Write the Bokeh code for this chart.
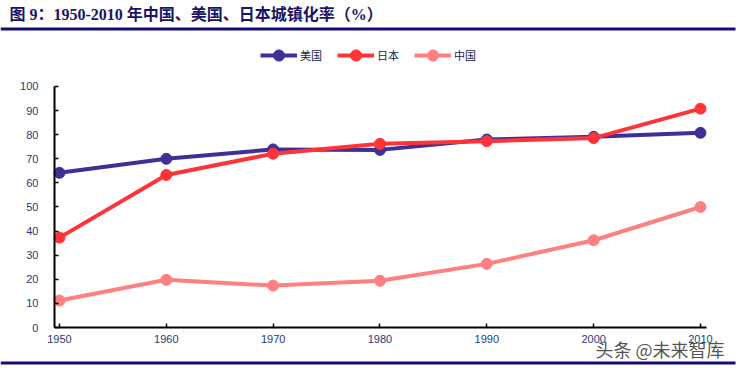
from bokeh.plotting import figure
from bokeh.models import (Range1d, FixedTicker, Legend, LegendItem, Label, BoxAnnotation)
from bokeh.embed import file_html
from bokeh.resources import INLINE

# ---- data ----
years = [1950, 1960, 1970, 1980, 1990, 2000, 2010]
us = [64.2, 70.0, 73.9, 73.7, 78.0, 79.1, 80.8]
japan = [37.3, 63.3, 72.1, 76.2, 77.3, 78.6, 90.8]
china = [11.2, 19.8, 17.4, 19.4, 26.4, 36.2, 50.0]
series_names = ["美国", "日本", "中国"]
series_colors = ["#3F2F96", "#FF3338", "#FF8080"]
y_ticks = [0, 10, 20, 30, 40, 50, 60, 70, 80, 90, 100]
title_text = "图  9：1950-2010 年中国、美国、日本城镇化率（%）"
watermark = "头条 @未来智库"

NAVY = "#160C78"
LABEL_BLUE = "#1F3A78"

W, H = 738, 368
# the frame covers the whole canvas; ranges chosen so the plot area sits
# where the reference has it (1950 -> x 59, 2010 -> x 700, 0 -> y 327, 100 -> y 86)
X0, X1 = 1944.48, 2013.56
Y0, Y1 = -17.01, 135.68
p = figure(width=W, height=H, output_backend="svg", toolbar_location=None,
           x_range=Range1d(X0, X1), y_range=Range1d(Y0, Y1),
           min_border=0, min_border_left=0, min_border_right=0,
           min_border_top=0, min_border_bottom=0)
p.grid.visible = False
p.outline_line_color = None

items = []
for name, vals, col in zip(series_names, [us, japan, china], series_colors):
    lr = p.line(years, vals, line_color=col, line_width=4)
    sr = p.scatter(years, vals, marker="circle", size=11, fill_color=col, line_color=col)
    items.append(LegendItem(label=name, renderers=[lr, sr]))

legend = Legend(items=items, orientation="horizontal", location=(260, 299),
                glyph_width=37, glyph_height=28, label_height=28,
                label_standoff=3, spacing=15, padding=0, margin=0,
                label_text_font="Noto Sans CJK SC", label_text_font_size="11px",
                label_text_color="#1A1A4A", background_fill_alpha=0,
                border_line_color=None)
p.add_layout(legend, "center")

AX_LEFT = 1949.53
AX_RIGHT = 2010.56
p.xaxis.fixed_location = 0
p.xaxis.bounds = (AX_LEFT, AX_RIGHT)
p.yaxis.fixed_location = AX_LEFT
p.yaxis.bounds = (0, 100)
p.xaxis.ticker = FixedTicker(ticks=years)
p.yaxis.ticker = FixedTicker(ticks=y_ticks)
for ax in (p.xaxis, p.yaxis):
    ax.axis_line_color = "black"
    ax.axis_line_width = 2
    ax.major_tick_line_color = "black"
    ax.major_tick_line_width = 1.5
    ax.major_tick_in = 4
    ax.major_tick_out = 0
    ax.minor_tick_line_color = None
p.xaxis.major_label_text_font = "Liberation Sans"
p.xaxis.major_label_text_font_size = "11px"
p.xaxis.major_label_text_color = LABEL_BLUE
p.xaxis.major_label_standoff = 7
p.yaxis.major_label_text_font = "Liberation Sans"
p.yaxis.major_label_text_font_size = "11px"
p.yaxis.major_label_text_color = LABEL_BLUE
p.yaxis.major_label_standoff = 16

# title and rules (screen units, measured from the canvas' bottom-left)
p.add_layout(Label(x=9, y=H - 14, x_units="screen", y_units="screen", text=title_text,
                   text_font="Liberation Serif, Noto Sans CJK SC", text_font_style="bold",
                   text_font_size="16px", text_color="#1A1466", text_baseline="middle"))
p.add_layout(BoxAnnotation(left=0, right=735, top=H - 27, bottom=H - 30,
                           left_units="screen", right_units="screen",
                           top_units="screen", bottom_units="screen",
                           fill_color=NAVY, fill_alpha=1, line_color=None))
p.add_layout(BoxAnnotation(left=0, right=735, top=H - 361, bottom=H - 364,
                           left_units="screen", right_units="screen",
                           top_units="screen", bottom_units="screen",
                           fill_color=NAVY, fill_alpha=1, line_color=None))

p.add_layout(Label(x=595, y=H - 348, x_units="screen", y_units="screen", text=watermark,
                   text_font="Noto Sans CJK SC", text_font_size="18px",
                   text_color="#333333", text_alpha=0.85, text_baseline="middle"))

open("out.html", "w").write(file_html(p, INLINE))
